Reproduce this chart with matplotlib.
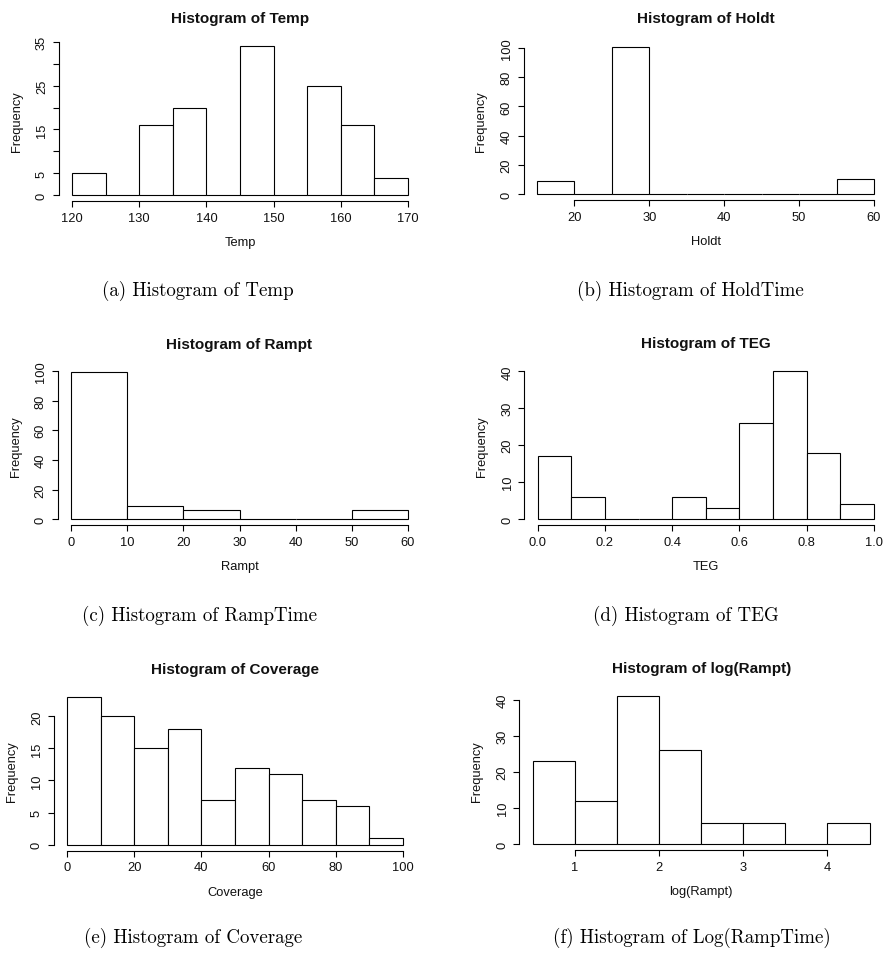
import numpy as np
import matplotlib
matplotlib.use("Agg")
import matplotlib.pyplot as plt

# ---------------- data ----------------
temp_edges = [120, 125, 130, 135, 140, 145, 150, 155, 160, 165, 170]
temp_counts = [5, 0, 16, 20, 0, 34, 0, 25, 16, 4]

holdt_edges = [15, 20, 25, 30, 35, 40, 45, 50, 55, 60]
holdt_counts = [9, 0, 101, 0, 0, 0, 0, 0, 10]

rampt_edges = [0, 10, 20, 30, 40, 50, 60]
rampt_counts = [99, 9, 6, 0, 0, 6]

teg_edges = [0.0, 0.1, 0.2, 0.3, 0.4, 0.5, 0.6, 0.7, 0.8, 0.9, 1.0]
teg_counts = [17, 6, 0, 0, 6, 3, 26, 40, 18, 4]

cov_edges = [0, 10, 20, 30, 40, 50, 60, 70, 80, 90, 100]
cov_counts = [23, 20, 15, 18, 7, 12, 11, 7, 6, 1]

logr_edges = [0.5, 1.0, 1.5, 2.0, 2.5, 3.0, 3.5, 4.0, 4.5]
logr_counts = [23, 12, 41, 26, 6, 6, 0, 6]

titles = ["Histogram of Temp", "Histogram of Holdt", "Histogram of Rampt",
          "Histogram of TEG", "Histogram of Coverage", "Histogram of log(Rampt)"]
xlabels = ["Temp", "Holdt", "Rampt", "TEG", "Coverage", "log(Rampt)"]
captions = ["(a) Histogram of Temp", "(b) Histogram of HoldTime",
            "(c) Histogram of RampTime", "(d) Histogram of TEG",
            "(e) Histogram of Coverage", "(f) Histogram of Log(RampTime)"]

xticks = [[120, 130, 140, 150, 160, 170],
          [20, 30, 40, 50, 60],
          [0, 10, 20, 30, 40, 50, 60],
          [0.0, 0.2, 0.4, 0.6, 0.8, 1.0],
          [0, 20, 40, 60, 80, 100],
          [1, 2, 3, 4]]
xticklabels = [["120", "130", "140", "150", "160", "170"],
               ["20", "30", "40", "50", "60"],
               ["0", "10", "20", "30", "40", "50", "60"],
               ["0.0", "0.2", "0.4", "0.6", "0.8", "1.0"],
               ["0", "20", "40", "60", "80", "100"],
               ["1", "2", "3", "4"]]
yticks = [[0, 5, 10, 15, 20, 25, 30, 35],
          [0, 20, 40, 60, 80, 100],
          [0, 20, 40, 60, 80, 100],
          [0, 10, 20, 30, 40],
          [0, 5, 10, 15, 20],
          [0, 10, 20, 30, 40]]
yticklabels = [["0", "5", "", "15", "", "25", "", "35"],
               ["0", "20", "40", "60", "80", "100"],
               ["0", "20", "40", "60", "80", "100"],
               ["0", "10", "20", "30", "40"],
               ["0", "5", "10", "15", "20"],
               ["0", "10", "20", "30", "40"]]

edges_all = [temp_edges, holdt_edges, rampt_edges, teg_edges, cov_edges, logr_edges]
counts_all = [temp_counts, holdt_counts, rampt_counts, teg_counts, cov_counts, logr_counts]

# ---------------- layout (pixels) ----------------
W, H = 884, 954
# left, right, top, bottom of each axes box in pixels
boxes = [(58.6, 421.4, 41.4, 202.0),
         (523.5, 887.5, 41.6, 201.0),
         (57.5, 421.5, 367.6, 526.0),
         (524.2, 887.5, 366.4, 526.0),
         (53.6, 416.4, 692.1, 851.6),
         (519.4, 883.0, 691.4, 851.2)]
caption_xy = [(198, 291), (690, 291), (199, 616), (686, 616), (193, 938), (692, 938)]

sans = "Liberation Sans"
fig = plt.figure(figsize=(W / 100, H / 100), dpi=100)
fig.patch.set_facecolor("white")

for i in range(6):
    l, r, t, b = boxes[i]
    wpx, hpx = r - l, b - t
    ax = fig.add_axes([l / W, 1 - b / H, wpx / W, hpx / H])
    ax.patch.set_alpha(0)
    edges = np.array(edges_all[i], dtype=float)
    counts = np.array(counts_all[i], dtype=float)
    ax.bar(edges[:-1], counts, width=np.diff(edges), align="edge",
           facecolor="white", edgecolor="black", linewidth=0.8, clip_on=False)
    lo, hi = edges[0], edges[-1]
    pad = 0.04 * (hi - lo)
    ax.set_xlim(lo - pad, hi + pad)
    ymax = counts.max()
    ax.set_ylim(-0.04 * ymax, 1.04 * ymax)

    for s in ["top", "right"]:
        ax.spines[s].set_visible(False)
    for s in ["left", "bottom"]:
        ax.spines[s].set_linewidth(0.8)
        ax.spines[s].set_color("black")
    ax.spines["left"].set_bounds(yticks[i][0], yticks[i][-1])
    ax.spines["bottom"].set_bounds(xticks[i][0], xticks[i][-1])

    ax.set_xticks(xticks[i])
    ax.set_xticklabels(xticklabels[i], fontsize=9.3, family=sans)
    ax.set_yticks(yticks[i])
    ax.set_yticklabels(yticklabels[i], fontsize=9.3, family=sans,
                       rotation=90, va="center")
    ax.tick_params(axis="both", length=4.3, width=0.8, color="black",
                   labelcolor="#111111", pad=3.4)

    ax.set_title(titles[i], fontsize=11, fontweight="bold", family=sans,
                 y=1 + 22.5 / hpx, pad=0, va="center", color="#111111")
    ax.set_xlabel(xlabels[i], fontsize=9.3, family=sans, color="#111111")
    ax.xaxis.set_label_coords(0.5, -41 / hpx)
    ax.xaxis.label.set_va("center")
    ax.set_ylabel("Frequency", fontsize=9.3, family=sans, color="#111111")
    ax.yaxis.set_label_coords(-42 / wpx, 0.5)
    ax.yaxis.label.set_va("center")

    cx, cy = caption_xy[i]
    fig.text(cx / W, 1 - cy / H, captions[i], fontsize=13.6, family="cmr10",
             ha="center", va="center", color="black")

fig.savefig("out.png", dpi=100, facecolor="white")
